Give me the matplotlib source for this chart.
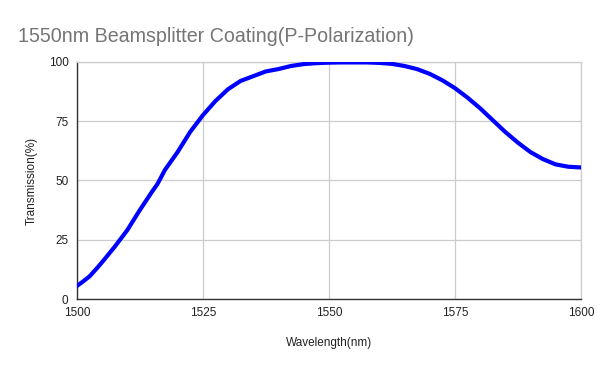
import matplotlib
matplotlib.use("Agg")
import matplotlib.pyplot as plt

plt.rcParams['font.family'] = ['Liberation Sans', 'DejaVu Sans']

# wavelength (nm) and transmission (%)
wavelength = [1500, 1501, 1502.5, 1504, 1505, 1507.5, 1510, 1512.5, 1515, 1516, 1517.5, 1519,
              1520, 1522.5, 1525, 1527.5, 1530, 1532.5, 1535, 1537.5, 1540, 1542.5,
              1545, 1547.5, 1550, 1552.5, 1555, 1557.5, 1560, 1562.5, 1565, 1567.5,
              1570, 1572.5, 1575, 1577.5, 1580, 1582.5, 1585, 1587.5, 1590, 1592.5,
              1595, 1597.5, 1600]
transmission = [5.5, 7, 9.5, 13, 15.5, 22, 29, 37.5, 45.5, 48.5, 54.5, 59,
                62, 70.5, 77.5, 83.5, 88.5, 92, 94, 96, 97, 98.3,
                99.1, 99.5, 99.7, 99.8, 99.8, 99.8, 99.6, 99.2, 98.3, 97,
                95, 92.3, 89, 85, 80.5, 75.5, 70.5, 66, 62, 59,
                56.8, 55.8, 55.5]
xticks = [1500, 1525, 1550, 1575, 1600]
yticks = [0, 25, 50, 75, 100]

fig = plt.figure(figsize=(6, 3.71), dpi=100)
ax = fig.add_axes([0.128, 0.194, 0.84, 0.639])

ax.plot(wavelength, transmission, color='#0000ff', lw=3, solid_joinstyle='round', zorder=3)

ax.set_xlim(1500, 1600)
ax.set_ylim(0, 100)
ax.set_xticks(xticks)
ax.set_yticks(yticks)
ax.grid(True, color='#cccccc', lw=0.9)
ax.tick_params(length=0, labelsize=8.5, colors='#222222', pad=6)

for side in ['top', 'right']:
    ax.spines[side].set_color('#cccccc')
    ax.spines[side].set_linewidth(0.9)
for side in ['left', 'bottom']:
    ax.spines[side].set_color('#333333')
    ax.spines[side].set_linewidth(1.0)

ax.set_xlabel('Wavelength(nm)', fontsize=8.5, color='#222222', labelpad=13)
ax.set_ylabel('Transmission(%)', fontsize=8.5, color='#222222', labelpad=8)

fig.text(0.03, 0.902, '1550nm Beamsplitter Coating(P-Polarization)', fontsize=14.1,
         color='#757575', va='center')

fig.savefig('out.png', dpi=100)
